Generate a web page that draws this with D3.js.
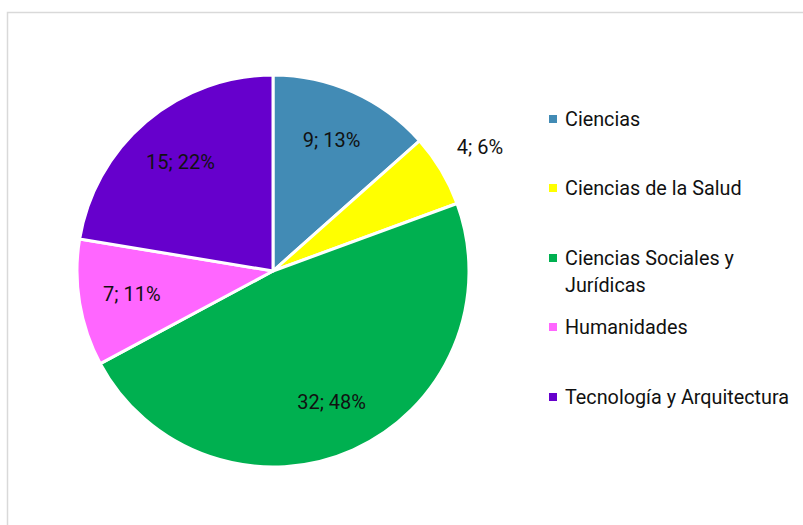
<!DOCTYPE html>
<html>
<head>
<meta charset="utf-8">
<script src="https://cdn.jsdelivr.net/npm/d3@7"></script>
<style>
  html, body { margin: 0; padding: 0; background: #fff; }
  svg text { font-family: Roboto, "Liberation Sans", sans-serif; fill: #111; }
</style>
</head>
<body>
<svg id="chart" width="803" height="525"></svg>
<script>
const categories = ['Ciencias', 'Ciencias de la Salud', 'Ciencias Sociales y Jurídicas', 'Humanidades', 'Tecnología y Arquitectura'];
const values = [9, 4, 32, 7, 15];
const percents = [13, 6, 48, 11, 22];
const colors = ['#428bb5', '#ffff00', '#00b050', '#ff66ff', '#6600cc'];

const svg = d3.select('#chart');
const width = 803, height = 525;

// chart area border
svg.append('rect')
  .attr('x', 7.5).attr('y', 12.5)
  .attr('width', width + 10).attr('height', height + 10)
  .attr('fill', 'none')
  .attr('stroke', '#d9d9d9')
  .attr('stroke-width', 1.5);

const cx = 273, cy = 271, radius = 196;
const g = svg.append('g').attr('transform', `translate(${cx},${cy})`);

const total = d3.sum(values);
const pie = d3.pie().sort(null).value(d => d.value);
const data = categories.map((c, i) => ({ name: c, value: values[i], pct: percents[i], color: colors[i] }));
const arcs = pie(data);

const arc = d3.arc().innerRadius(0).outerRadius(radius);

g.selectAll('path.slice')
  .data(arcs)
  .enter().append('path')
  .attr('class', 'slice')
  .attr('d', arc)
  .attr('fill', d => d.data.color)
  .attr('stroke', '#fff')
  .attr('stroke-width', 3)
  .attr('stroke-linejoin', 'round');

// data labels: inside for big slices, outside for small ones
const inner = d3.arc().innerRadius(radius * 0.73).outerRadius(radius * 0.73);
const outer = d3.arc().innerRadius(radius * 1.23).outerRadius(radius * 1.23);

g.selectAll('text.lbl')
  .data(arcs)
  .enter().append('text')
  .attr('class', 'lbl')
  .attr('transform', d => {
    const a = (d.data.value / total) < 0.08 ? outer : inner;
    const [x, y] = a.centroid(d);
    return `translate(${x},${y})`;
  })
  .attr('text-anchor', 'middle')
  .attr('dy', '0.35em')
  .style('font-size', '20px')
  .text(d => `${d.data.value}; ${d.data.pct}%`);

// legend
const legend = svg.append('g').attr('transform', 'translate(549,0)');
const rowY = [119, 188, 258, 327, 397];
const wrapped = {
  'Ciencias Sociales y Jurídicas': ['Ciencias Sociales y', 'Jurídicas']
};

data.forEach((d, i) => {
  const row = legend.append('g').attr('transform', `translate(0,${rowY[i]})`);
  row.append('rect')
    .attr('x', 0).attr('y', -4)
    .attr('width', 8).attr('height', 8)
    .attr('fill', d.color);
  const lines = wrapped[d.name] || [d.name];
  const t = row.append('text')
    .attr('x', 16)
    .style('font-size', '19.8px');
  lines.forEach((ln, j) => {
    t.append('tspan').attr('x', 16).attr('dy', j === 0 ? '0.35em' : '27px').text(ln);
  });
});
</script>
</body>
</html>
